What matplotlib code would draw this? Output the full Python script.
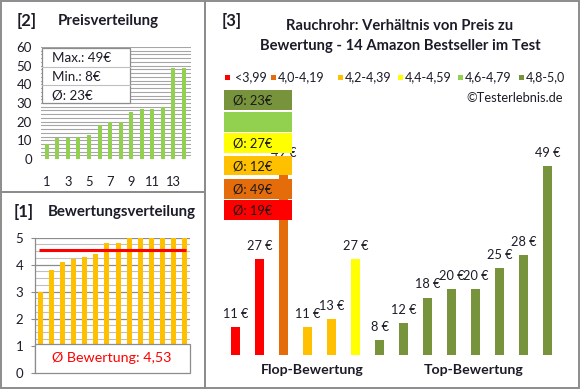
import matplotlib
matplotlib.use('Agg')
import matplotlib.pyplot as plt
from matplotlib.patches import Rectangle
import numpy as np

plt.rcParams['font.family'] = ['Lato', 'DejaVu Sans']

W, H = 580, 390

# ---- data ----
prices_sorted = [8, 11, 11, 12, 13, 18, 20, 20, 25, 27, 27, 28, 49, 49]
ratings_sorted = [3.0, 3.8, 4.1, 4.2, 4.3, 4.4, 4.8, 4.8, 5.0, 5.0, 5.0, 5.0, 5.0, 5.0]
products_price = [11, 27, 49, 11, 13, 27, 8, 12, 18, 20, 20, 25, 28, 49]
products_group = [0, 0, 1, 2, 2, 3, 5, 5, 5, 5, 5, 5, 5, 5]
group_labels = ['<3,99', '4,0-4,19', '4,2-4,39', '4,4-4,59', '4,6-4,79', '4,8-5,0']
group_colors = ['#FF0000', '#E46C0A', '#FFC000', '#FFFF00', '#92D050', '#77933C']
section_labels = ['Flop-Bewertung', 'Top-Bewertung']
price_yticks = [0, 10, 20, 30, 40, 50, 60]
price_xticks = [1, 3, 5, 7, 9, 11, 13]
rating_yticks = [0, 1, 2, 3, 4, 5]

TXT = '#1c1c28'
GRID = '#A6A6A6'
BORDER = '#8C8C8C'

fig = plt.figure(figsize=(W / 100, H / 100), dpi=100)


def ax_px(x0, y0, x1, y1):
    return fig.add_axes([x0 / W, 1 - y1 / H, (x1 - x0) / W, (y1 - y0) / H])


def ftext(x, y, s, **kw):
    kw.setdefault('color', TXT)
    return fig.text(x / W, 1 - y / H, s, **kw)


def frect(x0, y0, x1, y1, **kw):
    r = Rectangle((x0 / W, 1 - y1 / H), (x1 - x0) / W, (y1 - y0) / H,
                  transform=fig.transFigure, **kw)
    fig.add_artist(r)
    return r


def r_half(v):
    return int(v + 0.5)


# ---- panel borders ----
frect(1, 1, 205, 191.5, fill=False, edgecolor=BORDER, lw=1.4, zorder=10)
frect(1, 191.5, 205, 388, fill=False, edgecolor=BORDER, lw=1.4, zorder=10)
frect(205, 1, 579, 388, fill=False, edgecolor=BORDER, lw=1.4, zorder=10)

# ---- [2] Preisverteilung ----
ftext(17, 21, '[2]', fontsize=12, fontweight='bold', va='center')
ftext(58, 21, 'Preisverteilung', fontsize=10.8, fontweight='bold', va='center')

ax1 = ax_px(41, 47, 191, 159)
n = len(prices_sorted)
xs = np.arange(1, n + 1)
for v in np.arange(0, 61, 2):
    ax1.axhline(v, color=GRID, lw=0.8, zorder=1)
ax1.bar(xs, prices_sorted, width=0.38, color='#92D050', zorder=2)
ax1.set_xlim(0.46, 14.66)
ax1.set_ylim(0, 60)
ax1.set_yticks(price_yticks)
ax1.set_xticks(price_xticks)
ax1.tick_params(axis='y', length=0, pad=6.5, labelsize=9.5, labelcolor=TXT)
ax1.tick_params(axis='x', length=0, pad=12.5, labelsize=9.3, labelcolor=TXT)
for s in ax1.spines.values():
    s.set_visible(False)

# stats box
frect(42, 48, 130, 103, facecolor='white', edgecolor=BORDER, lw=0.9, zorder=5)
for yl in (66.5, 85):
    fig.add_artist(plt.Line2D([42 / W, 130 / W], [1 - yl / H, 1 - yl / H],
                              transform=fig.transFigure, color='#BFBFBF', lw=0.8, zorder=6))
ftext(52, 58, f'Max.: {max(prices_sorted)}€', fontsize=9.6, va='center', zorder=7)
ftext(52, 77, f'Min.: {min(prices_sorted)}€', fontsize=9.6, va='center', zorder=7)
ftext(52, 95, f'Ø: {r_half(np.mean(prices_sorted))}€', fontsize=9.6, va='center', zorder=7)

# ---- [1] Bewertungsverteilung ----
ftext(14, 212, '[1]', fontsize=12, fontweight='bold', va='center')
ftext(48, 212, 'Bewertungsverteilung', fontsize=10.8, fontweight='bold', va='center')

ax2 = ax_px(35, 237.7, 190, 372.7)
for v in np.arange(0, 5.01, 0.25):
    if abs(v - round(v)) < 1e-9:
        continue
    ax2.axhline(v, color='#BFBFBF', lw=0.8, zorder=1)
for v in rating_yticks:
    ax2.axhline(v, color='#8C8C8C', lw=0.9, zorder=1)
ax2.bar(xs, ratings_sorted, width=0.45, color='#FFC000', zorder=2)
mean_r = np.mean(ratings_sorted)
ax2.plot([0.9, 14.1], [mean_r, mean_r], color='#FF0000', lw=2.2, zorder=3,
         solid_capstyle='butt')
ax2.set_xlim(0.55, 14.45)
ax2.set_ylim(0, 5)
ax2.set_yticks(rating_yticks)
ax2.set_xticks([])
ax2.tick_params(axis='y', length=3, width=0.8, color='#8C8C8C', pad=5.5,
                labelsize=9.5, labelcolor=TXT)
for k, s in ax2.spines.items():
    s.set_visible(k == 'left')
ax2.spines['left'].set_color('#8C8C8C')
ax2.spines['left'].set_linewidth(0.9)

frect(35, 344, 190, 373, facecolor='white', edgecolor=BORDER, lw=0.9, zorder=5)
ftext(112, 358, 'Ø Bewertung: ' + f'{mean_r:.2f}'.replace('.', ','),
      fontsize=10.3, color='#FF0000', ha='center', va='center', zorder=7)

# ---- [3] main chart ----
ftext(222, 21, '[3]', fontsize=12, fontweight='bold', va='center')
ftext(400, 26, 'Rauchrohr: Verhältnis von Preis zu', fontsize=10.6, fontweight='bold',
      ha='center', va='center')
ftext(400, 46, 'Bewertung - 14 Amazon Bestseller im Test', fontsize=10.6, fontweight='bold',
      ha='center', va='center')

# legend row
sq_x = [227, 273, 340, 400, 460.7, 521.2]
tx_x = [234.5, 277.5, 344.3, 404.3, 465, 525.7]
for c, lab, sx, tx in zip(group_colors, group_labels, sq_x, tx_x):
    frect(sx - 2.5, 74.5, sx + 2.5, 79.5, facecolor=c, edgecolor='none', zorder=5)
    ftext(tx, 77.3, lab, fontsize=9, va='center')

ftext(563, 98, '©Testerlebnis.de', fontsize=9.3, ha='right', va='center')

ax3 = ax_px(222, 110, 560, 355)
idx = np.arange(len(products_price))
cols = [group_colors[g] for g in products_group]
ax3.bar(idx, products_price, width=0.375, color=cols, zorder=2)
for i, v in zip(idx, products_price):
    ax3.annotate(f'{v} €', (i, v), xytext=(0, 9.5), textcoords='offset points',
                 ha='center', va='center', fontsize=9.2, color=TXT,
                 annotation_clip=False, zorder=3)
ax3.set_xlim(-0.5625, 13.52)
ax3.set_ylim(4.5, 62.15)
ax3.axis('off')

ftext(312, 369.5, section_labels[0], fontsize=10.2, fontweight='bold', ha='center', va='center')
ftext(474, 369.5, section_labels[1], fontsize=10.2, fontweight='bold', ha='center', va='center')

# average boxes per rating group (top = best)
box_tops = [90, 112.3, 133.3, 156, 179, 200]
box_h = 19.5
for j, g in enumerate(range(len(group_colors) - 1, -1, -1)):
    top = box_tops[j]
    frect(224, top, 291.5, top + box_h, facecolor=group_colors[g], edgecolor='none', zorder=5)
    vals = [p for p, gg in zip(products_price, products_group) if gg == g]
    if vals:
        ftext(233, top + box_h / 2 + 0.5, f'Ø: {r_half(np.mean(vals))}€', fontsize=9.3,
              va='center', zorder=7, color='#1a1a1a')

fig.savefig('out.png', dpi=100)
